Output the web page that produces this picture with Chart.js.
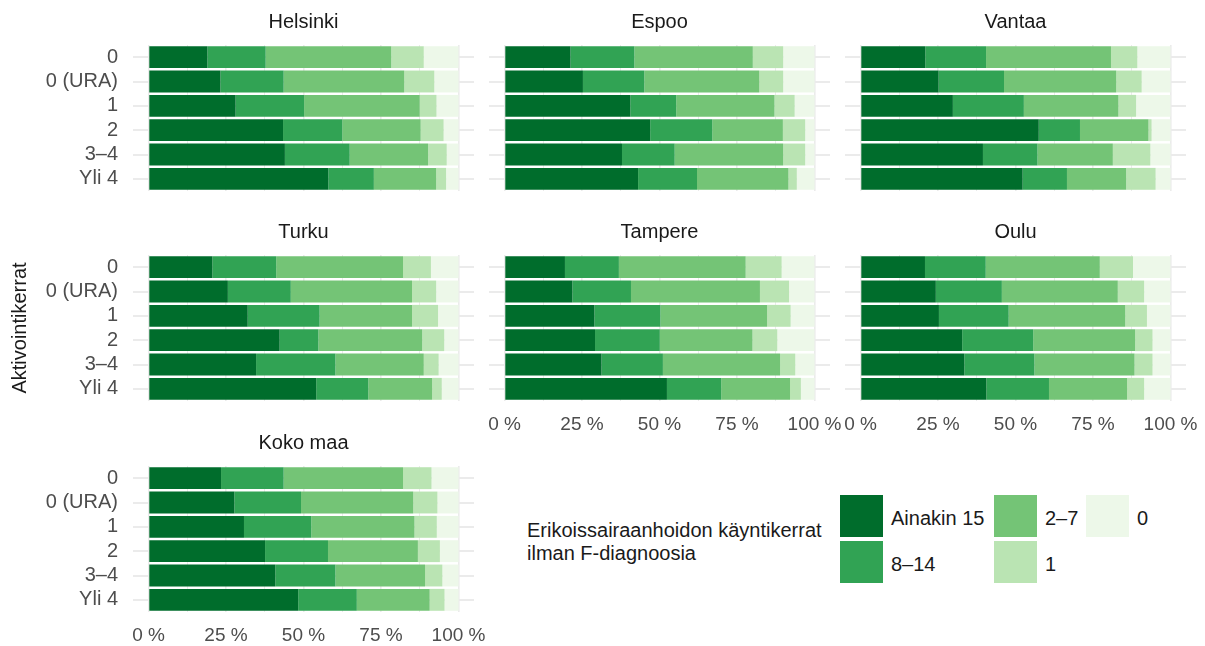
<!DOCTYPE html>
<html>
<head>
<meta charset="utf-8">
<script src="https://cdn.jsdelivr.net/npm/chart.js@4/dist/chart.umd.min.js"></script>
<style>
html,body{margin:0;padding:0;background:#ffffff;}
body{width:1205px;height:646px;position:relative;overflow:hidden;font-family:"Liberation Sans",Arial,sans-serif;}
.pc{position:absolute;}
.pc canvas{display:block;}
.lg-title{position:absolute;left:527px;top:519px;font-size:20px;line-height:22.7px;color:#1a1a1a;white-space:nowrap;}
.lg-key{position:absolute;width:43px;height:42px;}
.lg-lab{position:absolute;font-size:20px;line-height:24px;color:#1a1a1a;white-space:nowrap;}
</style>
</head>
<body>
<script>
// ---------- data ----------
const categories = ['0', '0 (URA)', '1', '2', '3–4', 'Yli 4'];
const seriesNames = ['Ainakin 15', '8–14', '2–7', '1', '0'];
const seriesColors = ['#006d2c', '#31a354', '#74c476', '#bae4b3', '#edf8e9'];
const xTickValues = [0, 25, 50, 75, 100];
const xTickLabels = ['0 %', '25 %', '50 %', '75 %', '100 %'];
const xGridValues = [0, 12.5, 25, 37.5, 50, 62.5, 75, 87.5, 100];
const yAxisTitle = 'Aktivointikerrat';
const legendTitle = ['Erikoissairaanhoidon käyntikerrat', 'ilman F-diagnoosia'];

// Helsinki
const helsinki15   = [19.0, 23.2, 28.1, 43.4, 44.0, 58.0];
const helsinki8_14 = [18.8, 20.4, 22.1, 19.1, 20.9, 14.7];
const helsinki2_7  = [40.5, 38.9, 37.3, 25.3, 25.3, 20.1];
const helsinki1    = [10.5,  9.7,  5.4,  7.4,  6.0,  3.2];
const helsinki0    = [11.2,  7.8,  7.1,  4.8,  3.8,  4.0];
// Espoo
const espoo15   = [21.3, 25.3, 40.6, 47.0, 37.9, 43.1];
const espoo8_14 = [20.6, 19.8, 14.8, 20.0, 17.0, 19.0];
const espoo2_7  = [38.2, 37.1, 31.7, 22.8, 35.0, 29.5];
const espoo1    = [ 9.8,  7.7,  6.5,  7.2,  7.1,  2.7];
const espoo0    = [10.1, 10.1,  6.4,  3.0,  3.0,  5.7];
// Vantaa
const vantaa15   = [20.9, 25.2, 29.8, 57.5, 39.5, 52.3];
const vantaa8_14 = [19.6, 21.1, 22.9, 13.3, 17.6, 14.3];
const vantaa2_7  = [40.3, 36.2, 30.5, 22.1, 24.3, 19.1];
const vantaa1    = [ 8.5,  8.2,  5.7,  1.0, 12.1,  9.5];
const vantaa0    = [10.7,  9.3, 11.1,  6.1,  6.5,  4.8];
// Turku
const turku15   = [20.6, 25.6, 32.0, 42.3, 34.7, 54.1];
const turku8_14 = [20.6, 20.3, 23.2, 12.5, 25.6, 16.8];
const turku2_7  = [40.9, 39.1, 29.8, 33.5, 28.5, 20.6];
const turku1    = [ 9.0,  7.8,  8.4,  7.1,  4.8,  3.1];
const turku0    = [ 8.9,  7.2,  6.6,  4.6,  6.4,  5.4];
// Tampere
const tampere15   = [19.5, 21.9, 29.0, 29.2, 31.3, 52.4];
const tampere8_14 = [17.4, 18.9, 21.3, 20.9, 19.8, 17.5];
const tampere2_7  = [40.9, 41.6, 34.4, 29.9, 37.8, 22.2];
const tampere1    = [11.6,  9.4,  7.6,  8.0,  4.9,  3.5];
const tampere0    = [10.6,  8.2,  7.7, 12.0,  6.2,  4.4];
// Oulu
const oulu15   = [20.8, 24.3, 25.3, 32.8, 33.5, 40.6];
const oulu8_14 = [19.6, 21.3, 22.5, 22.9, 22.6, 20.2];
const oulu2_7  = [36.8, 37.4, 37.6, 32.9, 32.3, 25.2];
const oulu1    = [10.7,  8.5,  7.0,  5.6,  5.8,  5.5];
const oulu0    = [12.1,  8.5,  7.6,  5.8,  5.8,  8.5];
// Koko maa
const kokomaa15   = [23.4, 27.7, 30.8, 37.6, 40.9, 48.3];
const kokomaa8_14 = [20.2, 21.5, 21.7, 20.3, 19.4, 18.9];
const kokomaa2_7  = [38.5, 36.2, 33.3, 29.0, 28.9, 23.5];
const kokomaa1    = [ 9.2,  7.8,  7.2,  7.1,  5.6,  4.8];
const kokomaa0    = [ 8.7,  6.8,  7.0,  6.0,  5.2,  4.5];

// ---------- layout ----------
const FONT = '"Liberation Sans", Arial, sans-serif';
const colLeft = [133, 489, 845];      // chart-area left per column
const panelW = 341;
const rowTop = [45, 255, 466];        // chart-area top per row
const panelH = 146;
const titleBox = 40;
const xAxisH = 40;

const panels = [
  {name: 'Helsinki', col: 0, row: 0, vals: [helsinki15, helsinki8_14, helsinki2_7, helsinki1, helsinki0], showX: false},
  {name: 'Espoo',    col: 1, row: 0, vals: [espoo15, espoo8_14, espoo2_7, espoo1, espoo0], showX: false},
  {name: 'Vantaa',   col: 2, row: 0, vals: [vantaa15, vantaa8_14, vantaa2_7, vantaa1, vantaa0], showX: false},
  {name: 'Turku',    col: 0, row: 1, vals: [turku15, turku8_14, turku2_7, turku1, turku0], showX: false, yTitle: true},
  {name: 'Tampere',  col: 1, row: 1, vals: [tampere15, tampere8_14, tampere2_7, tampere1, tampere0], showX: true},
  {name: 'Oulu',     col: 2, row: 1, vals: [oulu15, oulu8_14, oulu2_7, oulu1, oulu0], showX: true},
  {name: 'Koko maa', col: 0, row: 2, vals: [kokomaa15, kokomaa8_14, kokomaa2_7, kokomaa1, kokomaa0], showX: true}
];

// facet strip title, centred over the panel (chart area)
const panelTitlePlugin = {
  id: 'panelTitle',
  afterDraw(chart, args, opts) {
    const {ctx, chartArea} = chart;
    ctx.save();
    ctx.font = '20px ' + FONT;
    ctx.fillStyle = '#1a1a1a';
    ctx.textAlign = 'center';
    ctx.textBaseline = 'middle';
    ctx.fillText(opts.text, (chartArea.left + chartArea.right) / 2, chartArea.top - 23);
    ctx.restore();
  }
};

panels.forEach(p => {
  const showY = p.col === 0;
  const padL = showY ? 0 : 30;
  const padR = p.col === 2 ? 19 : 30;
  const yW = showY ? colLeft[0] : 0;
  const left = colLeft[p.col] - padL - yW;
  const top = rowTop[p.row] - titleBox;
  const width = yW + padL + panelW + padR;
  const height = titleBox + panelH + (p.showX ? xAxisH : 0);

  const div = document.createElement('div');
  div.className = 'pc';
  div.style.left = left + 'px';
  div.style.top = top + 'px';
  div.style.width = width + 'px';
  div.style.height = height + 'px';
  const cv = document.createElement('canvas');
  cv.width = width; cv.height = height;
  cv.style.width = width + 'px'; cv.style.height = height + 'px';
  div.appendChild(cv);
  document.body.appendChild(div);

  new Chart(cv, {
    type: 'bar',
    plugins: [panelTitlePlugin],
    data: {
      labels: categories,
      datasets: seriesNames.map((n, i) => ({
        label: n,
        data: p.vals[i],
        backgroundColor: seriesColors[i],
        borderWidth: 0,
        barPercentage: 0.9,
        categoryPercentage: 1.0
      }))
    },
    options: {
      indexAxis: 'y',
      responsive: false,
      animation: false,
      devicePixelRatio: 1,
      layout: {padding: {left: padL, right: padR, top: titleBox, bottom: 0}},
      plugins: {
        legend: {display: false},
        tooltip: {enabled: false},
        title: {display: false},
        panelTitle: {text: p.name}
      },
      scales: {
        x: {
          type: 'linear', stacked: true, min: -5, max: 105, bounds: 'data',
          position: 'bottom',
          afterBuildTicks: s => { s.ticks = xGridValues.map(v => ({value: v})); },
          afterFit: s => { s.height = p.showX ? xAxisH : 0; s.paddingLeft = 0; s.paddingRight = 0; },
          ticks: {
            display: p.showX, autoSkip: false, maxRotation: 0, minRotation: 0,
            padding: 12, color: '#4d4d4d',
            font: {family: FONT, size: 19},
            callback: v => { const k = xTickValues.indexOf(v); return k >= 0 ? xTickLabels[k] : ''; }
          },
          grid: {
            color: '#ebebeb', drawTicks: false,
            lineWidth: ctx => (ctx.tick && xTickValues.indexOf(ctx.tick.value) >= 0) ? 1.6 : 1
          },
          border: {display: false}
        },
        y: {
          type: 'category', stacked: true, offset: true,
          afterFit: s => { s.width = yW; s.paddingTop = 0; s.paddingBottom = 0; },
          ticks: {display: showY, autoSkip: false, padding: 15, color: '#4d4d4d', font: {family: FONT, size: 20}},
          grid: {offset: false, color: '#ebebeb', lineWidth: 2, drawTicks: false},
          border: {display: false},
          title: {
            display: !!p.yTitle, text: yAxisTitle, color: '#1a1a1a',
            font: {family: FONT, size: 20}, padding: {top: 8, bottom: 0}
          }
        }
      }
    }
  });
});

// ---------- legend (HTML, built from series arrays) ----------
const lt = document.createElement('div');
lt.className = 'lg-title';
lt.innerHTML = legendTitle.join('<br>');
document.body.appendChild(lt);

const keyPos = [[840, 495], [840, 541], [994, 495], [994, 541], [1086, 495]];
seriesNames.forEach((n, i) => {
  const k = document.createElement('div');
  k.className = 'lg-key';
  k.style.left = keyPos[i][0] + 'px';
  k.style.top = keyPos[i][1] + 'px';
  k.style.background = seriesColors[i];
  document.body.appendChild(k);
  const l = document.createElement('div');
  l.className = 'lg-lab';
  l.style.left = (keyPos[i][0] + 51) + 'px';
  l.style.top = (keyPos[i][1] + 11) + 'px';
  l.textContent = n;
  document.body.appendChild(l);
});
</script>
</body>
</html>
